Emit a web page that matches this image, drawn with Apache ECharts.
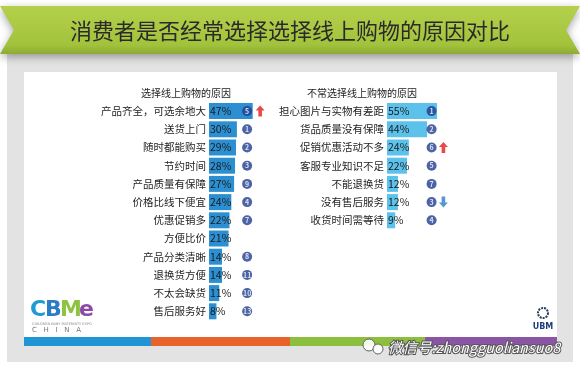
<!DOCTYPE html>
<html>
<head>
<meta charset="utf-8">
<title>消费者是否经常选择线上购物的原因对比</title>
<script src="https://cdn.jsdelivr.net/npm/echarts@6.0.0/dist/echarts.min.js"></script>
<style>
  html, body { margin: 0; padding: 0; background: #fff; }
  #main { width: 580px; height: 369px; }
</style>
</head>
<body>
<div id="main"></div>
<script>
  // 经常选择线上购物的原因
  var leftCats = ['产品齐全，可选余地大', '送货上门', '随时都能购买', '节约时间', '产品质量有保障', '价格比线下便宜',
    '优惠促销多', '方便比价', '产品分类清晰', '退换货方便', '不太会缺货', '售后服务好'];
  var leftVals = [47, 30, 29, 28, 27, 24, 22, 21, 14, 14, 11, 8];
  var leftRanks = [5, 1, 2, 3, 9, 4, 7, null, 8, 11, 10, 13];
  var leftTrend = ['up', null, null, null, null, null, null, null, null, null, null, null];

  // 不常选择线上购物的原因
  var rightCats = ['担心图片与实物有差距', '货品质量没有保障', '促销优惠活动不多', '客服专业知识不足', '不能退换货',
    '没有售后服务', '收货时间需等待'];
  var rightVals = [55, 44, 24, 22, 12, 12, 9];
  var rightRanks = [1, 2, 6, 5, 7, 3, 4];
  var rightTrend = [null, null, 'up', null, null, 'down', null];

  var FONT = '"Noto Sans CJK SC", "Noto Sans", sans-serif';
  var ROW = 18.2;
  var ARROW = 'path://M5,0 L10,5 L7,5 L7,11 L3,11 L3,5 L0,5 Z';

  function rankData(ranks, x) {
    var out = [];
    ranks.forEach(function (r, i) {
      if (r != null) out.push([x, i, r]);
    });
    return out;
  }
  function trendData(trend, dir, x) {
    var out = [];
    trend.forEach(function (t, i) {
      if (t === dir) out.push([x, i]);
    });
    return out;
  }

  function barSeries(idx, vals, color) {
    return {
      type: 'bar',
      xAxisIndex: idx,
      yAxisIndex: idx,
      data: vals,
      barWidth: 16,
      itemStyle: { color: color },
      label: {
        show: true,
        position: 'insideLeft',
        distance: 1,
        formatter: '{c}%',
        fontFamily: FONT,
        fontSize: 10.5,
        color: '#1a1a1a'
      },
      silent: true
    };
  }
  function rankSeries(idx, ranks, x) {
    return {
      type: 'scatter',
      xAxisIndex: idx,
      yAxisIndex: idx,
      data: rankData(ranks, x),
      symbol: 'circle',
      symbolSize: 10,
      itemStyle: { color: '#1f3c8e' },
      label: {
        show: true,
        position: 'inside',
        formatter: function (p) { return p.value[2]; },
        fontSize: 7,
        fontWeight: 'bold',
        color: '#fff'
      },
      z: 5,
      silent: true
    };
  }
  function arrowSeries(idx, trend, dir, x, color) {
    return {
      type: 'scatter',
      xAxisIndex: idx,
      yAxisIndex: idx,
      data: trendData(trend, dir, x),
      symbol: ARROW,
      symbolSize: [9, 11],
      symbolRotate: dir === 'down' ? 180 : 0,
      itemStyle: { color: color },
      z: 5,
      silent: true
    };
  }

  function catAxis(idx, cats) {
    return {
      type: 'category',
      gridIndex: idx,
      inverse: true,
      data: cats,
      axisLine: { show: false },
      axisTick: { show: false },
      axisLabel: {
        interval: 0,
        margin: 3,
        fontFamily: FONT,
        fontSize: 10.5,
        color: '#1e1e1e'
      }
    };
  }
  function valAxis(idx) {
    return { type: 'value', gridIndex: idx, min: 0, max: 100, show: false };
  }

  var myChart = echarts.init(document.getElementById('main'), null, { renderer: 'canvas' });
  myChart.setOption({
    animation: false,
    textStyle: { fontFamily: FONT },
    grid: [
      { left: 209, top: 102, width: 93, height: ROW * leftCats.length, outerBoundsMode: 'none' },
      { left: 387, top: 102, width: 91, height: ROW * rightCats.length, outerBoundsMode: 'none' }
    ],
    xAxis: [valAxis(0), valAxis(1)],
    yAxis: [catAxis(0, leftCats), catAxis(1, rightCats)],
    series: [
      barSeries(0, leftVals, '#2b8fd2'),
      barSeries(1, rightVals, '#5cc2ec'),
      rankSeries(0, leftRanks, 41),
      rankSeries(1, rightRanks, 49),
      arrowSeries(0, leftTrend, 'up', 55, '#e5191c'),
      arrowSeries(1, rightTrend, 'up', 62, '#e5191c'),
      arrowSeries(1, rightTrend, 'down', 62, '#2a7dc2')
    ],
    graphic: [
      // 灰色底板
      { type: 'rect', shape: { x: 7, y: 46, width: 566, height: 316 }, style: { fill: '#e3e3e3' }, z: -10 },
      { type: 'rect', shape: { x: 24, y: 72, width: 533, height: 270 }, style: { fill: '#ffffff' }, z: -9 },
      // 标题绶带
      {
        type: 'polygon',
        shape: { points: [[0, 6], [580, 6], [566, 30], [580, 54], [0, 54], [14, 30]] },
        style: {
          fill: new echarts.graphic.LinearGradient(0, 0, 0, 1, [
            { offset: 0, color: '#b4d04c' },
            { offset: 0.8, color: '#a3c33c' },
            { offset: 1, color: '#8eab33' }
          ]),
          shadowBlur: 8,
          shadowColor: 'rgba(0,0,0,0.35)',
          shadowOffsetY: 3
        },
        z: -5
      },
      {
        type: 'text', x: 290, y: 31,
        style: {
          text: '消费者是否经常选择选择线上购物的原因对比',
          font: '22px ' + FONT, fill: '#2a2a2a', textAlign: 'center', textVerticalAlign: 'middle'
        },
        z: 1
      },
      // 小标题
      {
        type: 'text', x: 186, y: 93,
        style: { text: '选择线上购物的原因', font: '10px ' + FONT, fill: '#222', textAlign: 'center', textVerticalAlign: 'middle' }
      },
      {
        type: 'text', x: 362, y: 93,
        style: { text: '不常选择线上购物的原因', font: '10px ' + FONT, fill: '#222', textAlign: 'center', textVerticalAlign: 'middle' }
      },
      // 彩色条
      { type: 'rect', shape: { x: 24, y: 337, width: 127, height: 9 }, style: { fill: '#1f95d6' }, z: -8 },
      { type: 'rect', shape: { x: 151, y: 337, width: 139, height: 9 }, style: { fill: '#e8622b' }, z: -8 },
      { type: 'rect', shape: { x: 290, y: 337, width: 135, height: 9 }, style: { fill: '#8dbf3f' }, z: -8 },
      { type: 'rect', shape: { x: 425, y: 337, width: 132, height: 9 }, style: { fill: '#8a55a5' }, z: -8 },
      // CBME logo
      { type: 'text', x: 30, y: 310, style: { text: 'C', font: 'bold 22px "DejaVu Sans"', fill: '#1d9ad8', textVerticalAlign: 'middle' } },
      { type: 'text', x: 45, y: 310, style: { text: 'B', font: 'bold 22px "DejaVu Sans"', fill: '#2a7cc6', textVerticalAlign: 'middle' } },
      { type: 'text', x: 60, y: 310, style: { text: 'M', font: 'bold 22px "DejaVu Sans"', fill: '#8cc43f', textVerticalAlign: 'middle' } },
      { type: 'text', x: 79, y: 310, style: { text: 'e', font: 'bold 22px "DejaVu Sans"', fill: '#8d48a8', textVerticalAlign: 'middle' } },
      { type: 'text', x: 32, y: 322, style: { text: 'CHILDREN BABY MATERNITY EXPO', font: '3.5px "DejaVu Sans"', fill: '#888' } },
      { type: 'text', x: 32, y: 327, style: { text: 'C   H   I   N   A', font: '7px "DejaVu Sans"', fill: '#777' } },
      // UBM logo
      { type: 'circle', shape: { cx: 543, cy: 313, r: 5 }, style: { fill: 'none', stroke: '#27405f', lineWidth: 2, lineDash: [2, 1] } },
      { type: 'text', x: 543, y: 327, style: { text: 'UBM', font: 'bold 8px "DejaVu Sans"', fill: '#1d3f7a', textAlign: 'center', textVerticalAlign: 'middle' } },
      // 水印
      { type: 'circle', shape: { cx: 369, cy: 345, r: 6 }, style: { fill: 'rgba(255,255,255,0.9)', stroke: '#666', lineWidth: 1 } },
      { type: 'circle', shape: { cx: 378, cy: 349, r: 5 }, style: { fill: 'rgba(255,255,255,0.9)', stroke: '#666', lineWidth: 1 } },
      {
        type: 'text', x: 388, y: 347,
        style: {
          text: '微信号:zhongguoliansuo8',
          font: 'italic 14.5px ' + FONT, fill: '#ffffff', stroke: '#555', lineWidth: 2,
          textVerticalAlign: 'middle'
        },
        z: 10
      }
    ]
  });
</script>
</body>
</html>
